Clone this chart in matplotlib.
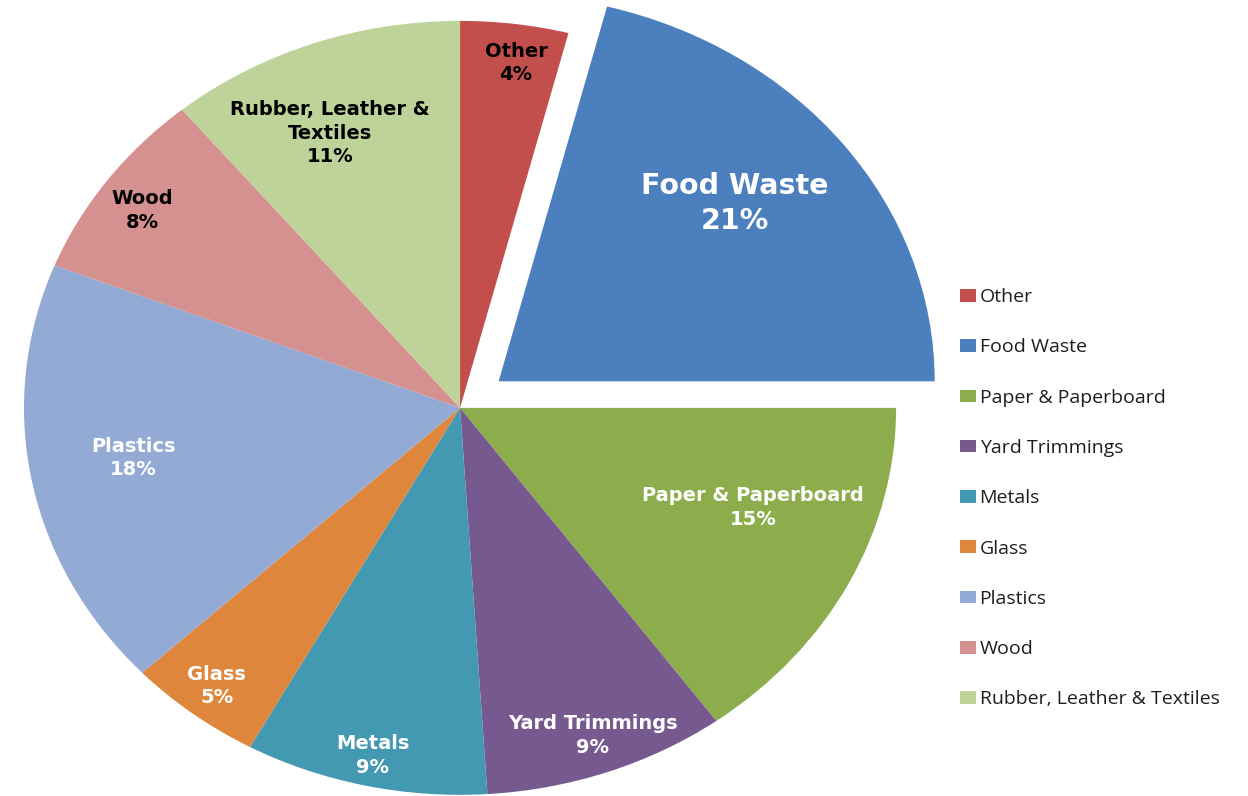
import matplotlib.pyplot as plt
import numpy as np

categories = ['Other', 'Food Waste', 'Paper & Paperboard', 'Yard Trimmings', 'Metals',
              'Glass', 'Plastics', 'Wood', 'Rubber, Leather & Textiles']
shares = [4, 21, 15, 9, 9, 5, 18, 8, 11]
slice_names = ['Other', 'Food Waste', 'Paper & Paperboard', 'Yard Trimmings', 'Metals',
               'Glass', 'Plastics', 'Wood', 'Rubber, Leather &\nTextiles']

colors = ['#C24F4B', '#4C7FBE', '#8DAD4C', '#76598F', '#4399B1',
          '#DE873C', '#93AAD5', '#D59190', '#BDD39A']
text_colors = ['black', 'white', 'white', 'white', 'white', 'white', 'white', 'black', 'black']
# radial distance and small angle nudge for each slice label
label_dist = [0.90, 0.71, 0.72, 0.90, 0.92, 0.91, 0.76, 0.89, 0.77]
label_nudge = [-1, 2.5, 6, 0, 0, 0, -1, 1, 3]
explode = [0, 0.112, 0, 0, 0, 0, 0, 0, 0]

fig = plt.figure(figsize=(12.48, 7.96), dpi=100)
ax = fig.add_axes([0, 0, 1, 1])

wedges, _ = ax.pie(shares, colors=colors, startangle=90, counterclock=False,
                   explode=explode, wedgeprops=dict(linewidth=0))
# the original pie is a bit stretched sideways
ax.set_aspect('auto')
ax.set_xlim(-1.055, 1.807)
ax.set_ylim(-1.003, 1.054)
ax.axis('off')

for i, w in enumerate(wedges):
    ang = np.deg2rad((w.theta1 + w.theta2) / 2 + label_nudge[i])
    cx, cy = w.center
    x = cx + label_dist[i] * np.cos(ang)
    y = cy + label_dist[i] * np.sin(ang)
    size = 20.5 if i == 1 else 14
    ax.text(x, y, f'{slice_names[i]}\n{shares[i]}%', ha='center', va='center',
            fontsize=size, fontweight='bold', color=text_colors[i],
            family='DejaVu Sans', linespacing=1.3)

leg = ax.legend(wedges, categories, loc='center left', bbox_to_anchor=(0.769, 0.374),
                bbox_transform=fig.transFigure, frameon=False,
                prop={'family': 'Open Sans', 'size': 14},
                handlelength=0.82, handleheight=0.62, handletextpad=0.2,
                labelspacing=1.66, borderpad=0, borderaxespad=0)
for t in leg.get_texts():
    t.set_color('#1e1e1e')

fig.savefig('out.png', dpi=100)
